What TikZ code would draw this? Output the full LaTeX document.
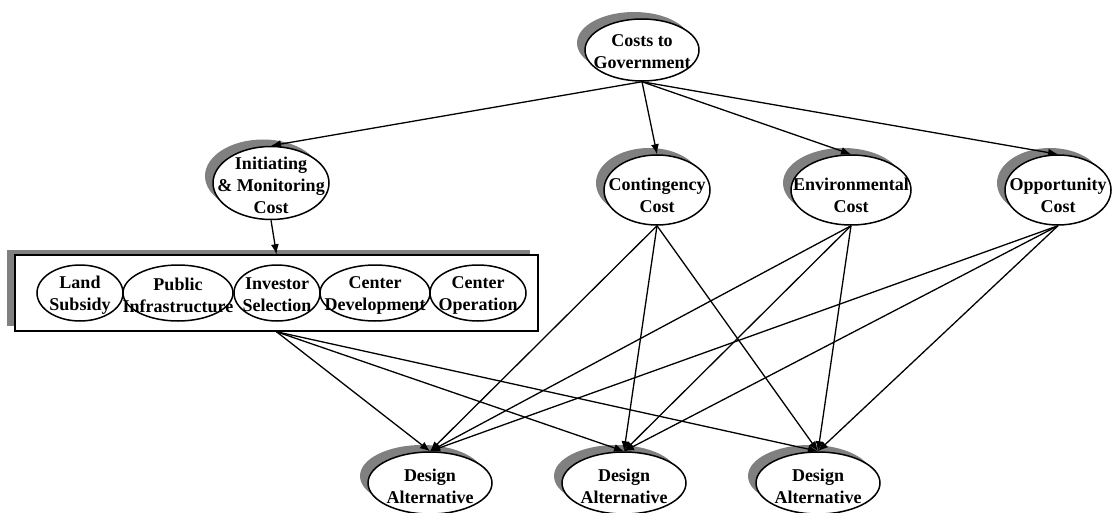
\documentclass[tikz,border=0pt]{standalone}
\usepackage{fontspec}
\setmainfont{Liberation Serif}
\usetikzlibrary{shadows,arrows.meta,shapes.geometric}
\begin{document}
\begin{tikzpicture}[x=1pt,y=-1pt,
  oval/.style={ellipse, draw, line width=1.5pt, fill=white, inner sep=0pt},
  shad/.style={drop shadow={shadow xshift=-8pt, shadow yshift=7pt, fill=gray, opacity=1}},
  lbl/.style={font=\bfseries\fontsize{18}{22}\selectfont, align=center, inner sep=0pt},
  conn/.style={line width=1.3pt, -{Latex[length=10pt,width=8pt]}}]
\useasboundingbox (0,0) rectangle (1118,513);
% top-level nodes
\node[oval,shad,minimum width=114pt,minimum height=62pt] (costs) at (642,50) {};
\node[lbl] (costsT) at (642,52) {Costs to\\Government};
\node[oval,shad,minimum width=116pt,minimum height=73pt] (init) at (271,183) {};
\node[lbl] (initT) at (271,185) {Initiating\\\& Monitoring\\Cost};
\node[oval,shad,minimum width=106pt,minimum height=70pt] (cont) at (657,190) {};
\node[lbl] (contT) at (657,195) {Contingency\\Cost};
\node[oval,shad,minimum width=120pt,minimum height=70pt] (env) at (851,190) {};
\node[lbl] (envT) at (851,195) {Environmental\\Cost};
\node[oval,shad,minimum width=106pt,minimum height=70pt] (opp) at (1058,190) {};
\node[lbl] (oppT) at (1058,195) {Opportunity\\Cost};
% box
\node[draw, line width=1.5pt, fill=white, minimum width=523pt, minimum height=76pt, inner sep=0pt,
  drop shadow={shadow xshift=-8pt, shadow yshift=5pt, fill=gray, opacity=1}] (box) at (276.5,293) {};
\node[oval,minimum width=86pt,minimum height=56pt] (land) at (80,293) {};
\node[lbl] (landT) at (80,295) {Land\\Subsidy};
\node[oval,minimum width=110pt,minimum height=56pt] (pub) at (178,293) {};
\node[lbl] (pubT) at (178,295) {Public\\Infrastructure};
\node[oval,minimum width=86pt,minimum height=56pt] (inv) at (277,293) {};
\node[lbl] (invT) at (277,295) {Investor\\Selection};
\node[oval,minimum width=110pt,minimum height=56pt] (cdev) at (375,293) {};
\node[lbl] (cdevT) at (375,295) {Center\\Development};
\node[oval,minimum width=96pt,minimum height=56pt] (cop) at (478,293) {};
\node[lbl] (copT) at (478,295) {Center\\Operation};
% design alternatives
\node[oval,shad,minimum width=124pt,minimum height=62pt] (d1) at (430,483) {};
\node[lbl] (d1T) at (430,486) {Design\\Alternative};
\node[oval,shad,minimum width=124pt,minimum height=62pt] (d2) at (624,483) {};
\node[lbl] (d2T) at (624,486) {Design\\Alternative};
\node[oval,shad,minimum width=124pt,minimum height=62pt] (d3) at (818,483) {};
\node[lbl] (d3T) at (818,486) {Design\\Alternative};
% connectors
\foreach \t in {init,cont,env,opp} \draw[conn] (costs.south) -- (\t.north);
\draw[conn] (init.south) -- (box.north);
\foreach \s in {box,cont,env,opp}
  \foreach \t in {d1,d2,d3} \draw[conn] (\s.south) -- (\t.north);
\end{tikzpicture}
\end{document}
